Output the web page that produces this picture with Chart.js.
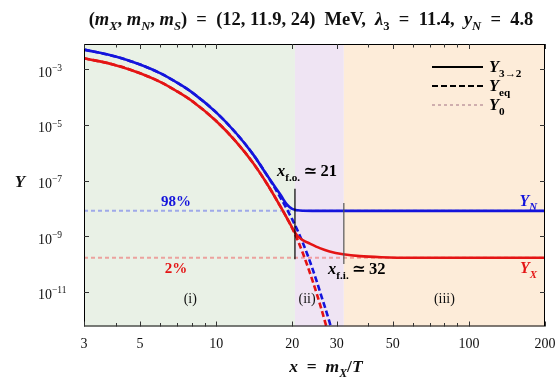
<!DOCTYPE html>
<html>
<head>
<meta charset="utf-8">
<script src="https://cdn.jsdelivr.net/npm/chart.js@4.4.1/dist/chart.umd.min.js"></script>
<style>
  html, body { margin: 0; padding: 0; background: #fff; }
  #wrap { width: 555px; height: 380px; }
</style>
</head>
<body>
<div id="wrap"><canvas id="c"></canvas></div>
<script>
// ---- data (Y values kept as log10) ----
const xN = [3, 4, 5, 6, 7, 8, 10, 12, 14, 16, 17, 18, 18.5, 19, 19.5, 20, 21, 22, 25, 30, 50, 200];
const logYN = [-2.29, -2.54, -2.83, -3.14, -3.48, -3.82, -4.55, -5.30, -6.06, -6.85, -7.20, -7.52, -7.70, -7.85, -7.95, -8.02, -8.07, -8.085, -8.09, -8.09, -8.09, -8.09];

const xX = [3, 4, 5, 6, 7, 8, 10, 12, 14, 16, 18, 19, 20, 20.5, 21, 22, 23.5, 25.7, 28.1, 31.8, 37, 45, 60, 100, 200];
const logYX = [-2.60, -2.85, -3.14, -3.45, -3.79, -4.13, -4.86, -5.61, -6.37, -7.16, -7.95, -8.33, -8.70, -8.87, -9.00, -9.14, -9.27, -9.43, -9.55, -9.65, -9.72, -9.76, -9.78, -9.78, -9.78];

const xEqN = [3, 4, 5, 6, 7, 8, 10, 12, 14, 16, 17, 18, 19, 20, 21, 22, 23, 24, 25, 26, 27, 28, 29];
const logEqN = [-2.29, -2.54, -2.83, -3.14, -3.48, -3.82, -4.55, -5.30, -6.06, -6.85, -7.24, -7.63, -8.01, -8.40, -8.80, -9.23, -9.68, -10.15, -10.63, -11.12, -11.58, -12.05, -12.53];

const xEqX = [3, 4, 5, 6, 7, 8, 10, 12, 14, 16, 18, 19, 20, 21, 22, 23, 24, 25, 26, 27, 28];
const logEqX = [-2.60, -2.85, -3.14, -3.45, -3.79, -4.13, -4.86, -5.61, -6.37, -7.16, -7.95, -8.33, -8.72, -9.14, -9.60, -10.08, -10.57, -11.07, -11.58, -12.10, -12.62];

const logY0N = -8.09;   // 98 %
const logY0X = -9.78;   // 2 %

const xFO = 20.5, spanFO = [-7.30, -9.83];
const xFI = 32, spanFI = [-7.81, -10.0];

const xTicks = [3, 5, 10, 20, 30, 50, 100, 200];
const xAllTicks = [3, 4, 5, 6, 7, 8, 9, 10, 20, 30, 40, 50, 60, 70, 80, 90, 100, 200];
const yTickExp = [-3, -5, -7, -9, -11];
const yRange = [-12.25, -2.09];

const regionEdges = [3, 20.5, 32, 200];
const regionColors = ["#e9f1e6", "#efe4f3", "#fdecd9"];
const regionLabels = ["(i)", "(ii)", "(iii)"];
const regionLabelX = [7.9, 22.9, 80];

const BLUE = "#1414dc", RED = "#e41414";
const fam = '"Liberation Serif", "DejaVu Serif", serif';
const SP = "\u2002"; // wider math-like spacing

// ---- small rich text helper (subscripts / superscripts) ----
function fontFor(st, size) {
  const sz = (st.includes("s") || st.includes("u")) ? size * 0.68 : size;
  return (st.includes("i") ? "italic " : "") + (st.includes("b") ? "bold " : "") + sz.toFixed(1) + "px " + fam;
}
function drawRich(ctx, segs, x, y, size, align, color) {
  ctx.save();
  ctx.textBaseline = "alphabetic";
  ctx.textAlign = "left";
  let w = 0;
  segs.forEach(([t, st]) => { ctx.font = fontFor(st, size); w += ctx.measureText(t).width; });
  let cx = align === "center" ? x - w / 2 : align === "right" ? x - w : x;
  ctx.fillStyle = color;
  segs.forEach(([t, st]) => {
    ctx.font = fontFor(st, size);
    let dy = 0;
    if (st.includes("s")) dy = size * 0.28;
    if (st.includes("u")) dy = -size * 0.42;
    ctx.fillText(t, cx, y + dy);
    cx += ctx.measureText(t).width;
  });
  ctx.restore();
}

function curve(xs, lg, color, dash, width, order) {
  return {
    data: xs.map((x, i) => ({ x: x, y: Math.pow(10, lg[i]) })),
    borderColor: color, borderWidth: width, borderDash: dash,
    pointRadius: 0, fill: false, cubicInterpolationMode: "monotone", order: order
  };
}
function flat(lg, color, order) {
  return {
    data: [{ x: 3, y: Math.pow(10, lg) }, { x: 200, y: Math.pow(10, lg) }],
    borderColor: color, borderWidth: 2, borderDash: [4, 3],
    pointRadius: 0, fill: false, order: order
  };
}
function vline(x, span, color, order) {
  return {
    data: [{ x: x, y: Math.pow(10, span[0]) }, { x: x, y: Math.pow(10, span[1]) }],
    borderColor: color, borderWidth: 1.2, pointRadius: 0, fill: false, order: order
  };
}

// ---- decorations: bands, frame, ticks, texts ----
const decor = {
  id: "decor",
  beforeDatasetsDraw(chart) {
    const { ctx, chartArea: a, scales: { x } } = chart;
    ctx.save();
    for (let i = 0; i < regionColors.length; i++) {
      const x0 = x.getPixelForValue(regionEdges[i]);
      const x1 = x.getPixelForValue(regionEdges[i + 1]);
      ctx.fillStyle = regionColors[i];
      ctx.fillRect(x0, a.top, x1 - x0, a.bottom - a.top);
    }
    ctx.restore();
  },
  afterDatasetsDraw(chart) {
    const { ctx, chartArea: a, scales: { x, y } } = chart;
    ctx.save();
    ctx.strokeStyle = "#000";
    ctx.lineWidth = 1;
    ctx.strokeRect(a.left + 0.5, a.top + 0.5, a.right - a.left - 1, a.bottom - a.top - 1);
    ctx.strokeStyle = "#333";
    ctx.beginPath();
    xAllTicks.forEach(v => {
      const px = Math.round(x.getPixelForValue(v)) + 0.5;
      const len = xTicks.includes(v) ? 5 : 3.5;
      ctx.moveTo(px, a.bottom); ctx.lineTo(px, a.bottom - len);
      ctx.moveTo(px, a.top); ctx.lineTo(px, a.top + len);
    });
    yTickExp.forEach(e => {
      const py = Math.round(y.getPixelForValue(Math.pow(10, e))) + 0.5;
      ctx.moveTo(a.left, py); ctx.lineTo(a.left + 5, py);
      ctx.moveTo(a.right, py); ctx.lineTo(a.right - 5, py);
    });
    ctx.stroke();

    // legend
    const lx0 = 432, lx1 = 483;
    const rows = [
      { y: 67, dash: [], color: "#000", w: 2.2, label: [["Y", "bi"], ["3→2", "bs"]] },
      { y: 86, dash: [6, 3], color: "#000", w: 2.2, label: [["Y", "bi"], ["eq", "bs"]] },
      { y: 105, dash: [3, 3], color: "#cfaeae", w: 2, label: [["Y", "bi"], ["0", "bs"]] }
    ];
    rows.forEach(r => {
      ctx.beginPath();
      ctx.setLineDash(r.dash);
      ctx.strokeStyle = r.color;
      ctx.lineWidth = r.w;
      ctx.moveTo(lx0, r.y); ctx.lineTo(lx1, r.y);
      ctx.stroke();
      drawRich(ctx, r.label, 489, r.y + 5, 16.5, "left", "#000");
    });
    ctx.setLineDash([]);
    ctx.restore();
  },
  afterDraw(chart) {
    const { ctx, scales: { x, y } } = chart;
    const P = (vx, ly) => [x.getPixelForValue(vx), y.getPixelForValue(Math.pow(10, ly))];

    // y tick labels
    yTickExp.forEach(e => {
      const py = y.getPixelForValue(Math.pow(10, e));
      drawRich(ctx, [["10", ""], ["−" + (-e), "u"]], 38, py + 7.5, 14, "left", "#111");
    });

    // title
    drawRich(ctx, [["(", "b"], ["m", "bi"], ["X", "bis"], [", ", "b"], ["m", "bi"], ["N", "bis"], [", ", "b"],
      ["m", "bi"], ["S", "bis"], [")" + SP + "=" + SP + "(12, 11.9, 24)" + SP + "MeV," + SP, "b"],
      ["λ", "bi"], ["3", "bs"], [SP + "=" + SP + "11.4," + SP, "b"], ["y", "bi"], ["N", "bis"], [SP + "=" + SP + "4.8", "b"]],
      311, 25, 18.5, "center", "#111");

    // axis titles
    drawRich(ctx, [["x", "bi"], [SP + "=" + SP, "b"], ["m", "bi"], ["X", "bis"], ["/", "b"], ["T", "bi"]], 326, 372, 17.5, "center", "#111");
    drawRich(ctx, [["Y", "bi"]], 20, 187, 17, "center", "#111");

    // annotations
    let p = P(6.93, -7.74);
    drawRich(ctx, [["98%", "b"]], p[0], p[1] + 5, 15, "center", BLUE);
    p = P(6.93, -10.15);
    drawRich(ctx, [["2%", "b"]], p[0], p[1] + 5, 15, "center", RED);
    p = P(17.4, -6.70);
    drawRich(ctx, [["x", "bi"], ["f.o.", "bs"], ["\u2009≃\u200921", "b"]], p[0], p[1] + 4, 16.5, "left", "#000");
    p = P(27.7, -10.22);
    drawRich(ctx, [["x", "bi"], ["f.i.", "bs"], ["\u2009≃\u200932", "b"]], p[0], p[1] + 4, 16.5, "left", "#000");
    p = P(186, -7.72);
    drawRich(ctx, [["Y", "bi"], ["N", "bis"]], p[0], p[1] + 5, 16, "right", BLUE);
    p = P(186, -10.15);
    drawRich(ctx, [["Y", "bi"], ["X", "bis"]], p[0], p[1] + 5, 16, "right", RED);

    regionLabels.forEach((t, i) => {
      const q = P(regionLabelX[i], -11.23);
      drawRich(ctx, [[t, ""]], q[0], q[1] + 5, 14, "center", "#111");
    });
  }
};

new Chart(document.getElementById("c"), {
  type: "line",
  data: {
    datasets: [
      curve(xN, logYN, BLUE, [], 2.6, 1),
      curve(xX, logYX, RED, [], 2.6, 1),
      curve(xEqN, logEqN, BLUE, [6, 3], 2.6, 2),
      curve(xEqX, logEqX, RED, [6, 3], 2.6, 2),
      flat(logY0N, "rgba(120,130,235,0.65)", 3),
      flat(logY0X, "rgba(238,120,120,0.65)", 3),
      vline(xFO, spanFO, "#000", 0),
      vline(xFI, spanFI, "#555", 0)
    ]
  },
  options: {
    responsive: true,
    maintainAspectRatio: false,
    animation: false,
    layout: { padding: { top: 44, right: 10, left: 0, bottom: 0 } },
    plugins: { legend: { display: false }, tooltip: { enabled: false }, title: { display: false } },
    scales: {
      x: {
        type: "logarithmic", min: 3, max: 200,
        afterBuildTicks: s => { s.ticks = xTicks.map(v => ({ value: v })); },
        afterFit: s => {
          s.height = 380 - 326.5;
          s.paddingLeft = 0; s.paddingRight = 0; s.paddingTop = 0; s.paddingBottom = 0;
        },
        ticks: { callback: v => String(v), font: { family: fam, size: 14 }, color: "#111", padding: 9, maxRotation: 0, autoSkip: false },
        grid: { display: false, drawTicks: false },
        border: { display: false }
      },
      y: {
        type: "logarithmic", min: Math.pow(10, yRange[0]), max: Math.pow(10, yRange[1]),
        afterBuildTicks: s => { s.ticks = yTickExp.map(e => ({ value: Math.pow(10, e) })); },
        afterFit: s => {
          s.width = 84;
          s.paddingLeft = 0; s.paddingRight = 0; s.paddingTop = 0; s.paddingBottom = 0;
        },
        ticks: { display: false },
        grid: { display: false, drawTicks: false },
        border: { display: false }
      }
    }
  },
  plugins: [decor]
});
</script>
</body>
</html>
